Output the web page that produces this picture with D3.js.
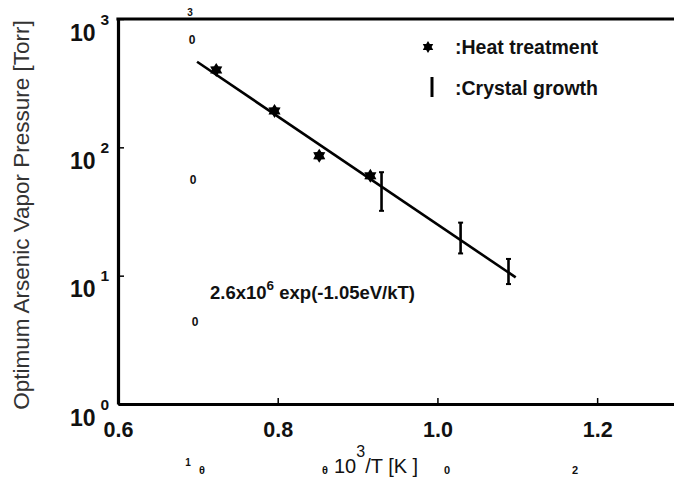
<!DOCTYPE html>
<html>
<head>
<meta charset="utf-8">
<script src="https://cdn.jsdelivr.net/npm/d3@7"></script>
<style>
  html, body { margin: 0; padding: 0; background: #fff; }
  svg { display: block; font-family: Arial, "Liberation Sans", Helvetica, sans-serif; }
</style>
</head>
<body>
<svg id="chart" width="674" height="482"></svg>
<script>
// ---- data ----
const xTicks = [0.6, 0.8, 1.0, 1.2];
const xTickLabels = ["0.6", "0.8", "1.0", "1.2"];
const yTicks = [1, 10, 100, 1000];
const yTickExponents = ["0", "1", "2", "3"];

// Heat treatment (stars)
const heatX = [0.723, 0.796, 0.852, 0.916];
const heatY = [401, 192, 86, 60];

// Crystal growth (vertical bars)
const growthX = [0.930, 1.029, 1.089];
const growthLow = [32, 14.9, 8.6];
const growthHigh = [64, 25.9, 13.5];

// Fitted line 2.6x10^6 exp(-1.05eV/kT)
const fitX = [0.699, 1.098];
const fitY = [464, 9.7];

const legendLabels = [":Heat treatment", ":Crystal growth"];
const xTitle = ["10", "3", "/T [K ]"];
const yTitle = "Optimum Arsenic Vapor Pressure [Torr]";

// ---- drawing ----
const svg = d3.select("#chart");
const L = 118, R = 677, T = 19, B = 404;
const x = d3.scaleLinear().domain([0.6, 1.3]).range([L, R]);
const y = d3.scaleLog().domain([1, 1000]).range([B, T]);

const bold = "bold";

// X axis
const xAxis = svg.append("g").attr("transform", `translate(0,${B})`)
  .call(d3.axisBottom(x).tickValues(xTicks).tickSizeInner(-6).tickSizeOuter(0).tickPadding(18)
    .tickFormat((d, i) => xTickLabels[i]));
xAxis.select(".domain").attr("stroke", "#000").attr("stroke-width", 3.2);
xAxis.selectAll(".tick line").attr("stroke-width", 1.5);
xAxis.selectAll(".tick text").attr("font-size", 21.5).attr("font-weight", bold).attr("fill", "#111");

// Y axis
const yAxis = svg.append("g").attr("transform", `translate(${L},0)`)
  .call(d3.axisLeft(y).tickValues(yTicks).tickSizeInner(-6).tickSizeOuter(0).tickFormat(""));
yAxis.select(".domain").attr("stroke", "#000").attr("stroke-width", 3.2);
yAxis.selectAll(".tick line").attr("stroke-width", 1.5);
yAxis.selectAll(".tick").each(function (d, i) {
  const g = d3.select(this);
  const t = g.append("text").attr("fill", "#111").attr("text-anchor", "start")
    .attr("x", -48).attr("y", 21).attr("font-size", 23).attr("font-weight", bold);
  t.append("tspan").text("10");
  t.append("tspan").attr("dx", 5).attr("dy", -16).attr("font-size", 15.5).text(yTickExponents[i]);
});

// top frame
svg.append("line").attr("x1", L - 1.6).attr("x2", R).attr("y1", T).attr("y2", T)
  .attr("stroke", "#000").attr("stroke-width", 3.2);
svg.append("line").attr("x1", R).attr("x2", R).attr("y1", T).attr("y2", B)
  .attr("stroke", "#000").attr("stroke-width", 3.2);

// fit line
svg.append("path")
  .datum(fitX.map((d, i) => [d, fitY[i]]))
  .attr("d", d3.line().x(d => x(d[0])).y(d => y(d[1])))
  .attr("fill", "none").attr("stroke", "#000").attr("stroke-width", 2.6);

// six-pointed star
function star6(r) {
  const pts = [];
  for (let k = 0; k < 12; k++) {
    const a = -Math.PI / 2 + k * Math.PI / 6;
    const rr = k % 2 === 0 ? r : r * 0.6;
    pts.push([rr * Math.cos(a), rr * Math.sin(a)]);
  }
  return "M" + pts.map(p => p.join(",")).join("L") + "Z";
}

svg.append("g").selectAll("path").data(heatX.map((d, i) => [d, heatY[i]])).join("path")
  .attr("transform", d => `translate(${x(d[0])},${y(d[1])})`)
  .attr("d", star6(7)).attr("fill", "#000");

// crystal growth bars
const gg = svg.append("g").selectAll("g").data(growthX.map((d, i) => [d, growthLow[i], growthHigh[i]])).join("g");
gg.append("line").attr("x1", d => x(d[0])).attr("x2", d => x(d[0]))
  .attr("y1", d => y(d[1])).attr("y2", d => y(d[2])).attr("stroke", "#000").attr("stroke-width", 2.6);
gg.append("line").attr("x1", d => x(d[0]) - 2.5).attr("x2", d => x(d[0]) + 2.5)
  .attr("y1", d => y(d[1])).attr("y2", d => y(d[1])).attr("stroke", "#000").attr("stroke-width", 2);
gg.append("line").attr("x1", d => x(d[0]) - 2.5).attr("x2", d => x(d[0]) + 2.5)
  .attr("y1", d => y(d[2])).attr("y2", d => y(d[2])).attr("stroke", "#000").attr("stroke-width", 2);

// legend
const lg = svg.append("g").attr("transform", `translate(428,47)`);
lg.append("path").attr("d", star6(6)).attr("fill", "#000");
lg.append("line").attr("x1", 4).attr("x2", 4).attr("y1", 30).attr("y2", 50)
  .attr("stroke", "#000").attr("stroke-width", 3);
lg.selectAll("text").data(legendLabels).join("text")
  .attr("x", 27).attr("y", (d, i) => 7 + i * 41)
  .attr("font-size", 19.5).attr("font-weight", bold).attr("fill", "#111").text(d => d);

// formula annotation
const ft = svg.append("text").attr("x", 210).attr("y", 299).attr("font-size", 18.5)
  .attr("font-weight", bold).attr("fill", "#111");
ft.append("tspan").text("2.6x10");
ft.append("tspan").attr("dy", -9).attr("font-size", 13.5).text("6");
ft.append("tspan").attr("dy", 9).text(" exp(-1.05eV/kT)");

// axis titles
const xt = svg.append("text").attr("x", 334).attr("y", 473).attr("font-size", 20).attr("fill", "#111");
xt.append("tspan").text(xTitle[0]);
xt.append("tspan").attr("dy", -16).attr("font-size", 16).text(xTitle[1]);
xt.append("tspan").attr("dy", 16).text(xTitle[2]);

svg.append("text").attr("transform", "translate(29,215) rotate(-90)")
  .attr("text-anchor", "middle").attr("font-size", 22.5).attr("fill", "#333").text(yTitle);

// scanning artifacts (stray glyphs in the source image)
const art = svg.append("g").attr("font-weight", bold).attr("fill", "#111").attr("text-anchor", "middle");
[["3", 190, 16, 10], ["0", 192, 44, 12], ["0", 193, 184, 12], ["0", 195, 326, 12],
 ["1", 188, 466, 10], ["θ", 202, 474, 11], ["θ", 325, 474, 11], ["0", 447, 474, 11], ["2", 575, 474, 11]]
  .forEach(a => art.append("text").attr("x", a[1]).attr("y", a[2]).attr("font-size", a[3]).text(a[0]));
</script>
</body>
</html>
